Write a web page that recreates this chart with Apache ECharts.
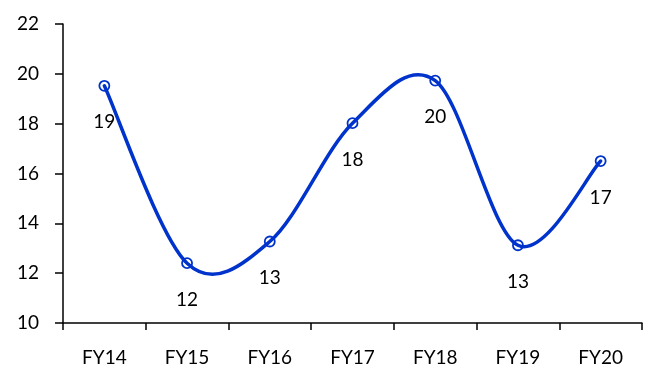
<!DOCTYPE html>
<html><head><meta charset="utf-8">
<script src="https://cdn.jsdelivr.net/npm/echarts@6/dist/echarts.min.js"></script>
<style>html,body{margin:0;padding:0;background:#fff}#c{width:660px;height:371px}</style>
</head><body><div id="c"></div>
<script>
const categories = ['FY14','FY15','FY16','FY17','FY18','FY19','FY20'];
const values = [19.52, 12.4, 13.27, 18.02, 19.73, 13.12, 16.5];
const labels = ['19','12','13','18','20','13','17'];
const yTicks = {min: 10, max: 22, interval: 2};

const blue = '#0033CC';
const font = 'Lato, "Open Sans", sans-serif';
const fs = 19;
const chart = echarts.init(document.getElementById('c'), null, {renderer: 'canvas'});

// Smooth curve (Catmull-Rom style, as in spreadsheet smoothed lines) through the data points,
// positioned through the chart's own coordinate system.
function renderCurve(params, api) {
  if (params.dataIndex !== 0) return null;
  const pts = values.map((v, i) => api.coord([i, v]));
  const n = pts.length;
  let path = 'M' + pts[0][0] + ' ' + pts[0][1];
  for (let i = 0; i < n - 1; i++) {
    const p0 = pts[Math.max(i - 1, 0)], p1 = pts[i], p2 = pts[i + 1], p3 = pts[Math.min(i + 2, n - 1)];
    const c1 = [p1[0] + (p2[0] - p0[0]) / 6, p1[1] + (p2[1] - p0[1]) / 6];
    const c2 = [p2[0] - (p3[0] - p1[0]) / 6, p2[1] - (p3[1] - p1[1]) / 6];
    path += ' C' + c1[0] + ' ' + c1[1] + ' ' + c2[0] + ' ' + c2[1] + ' ' + p2[0] + ' ' + p2[1];
  }
  return {
    type: 'path',
    shape: {pathData: path},
    style: {fill: null, stroke: blue, lineWidth: 3.5, lineJoin: 'round', lineCap: 'round'}
  };
}

chart.setOption({
  animation: false,
  backgroundColor: '#fff',
  grid: {left: 63, right: 18, top: 24, bottom: 48},
  xAxis: {
    type: 'category', data: categories, boundaryGap: true,
    axisLine: {lineStyle: {color: '#000', width: 1.5}},
    axisTick: {show: true, alignWithLabel: false, length: 7, lineStyle: {color: '#000', width: 1.5}},
    axisLabel: {color: '#000', fontSize: fs, fontFamily: font, margin: 25}
  },
  yAxis: {
    type: 'value', min: yTicks.min, max: yTicks.max, interval: yTicks.interval,
    axisLine: {show: true, lineStyle: {color: '#000', width: 1.5}},
    axisTick: {show: true, length: 8, lineStyle: {color: '#000', width: 1.5}},
    axisLabel: {color: '#000', fontSize: fs, fontFamily: font, margin: 24},
    splitLine: {show: false}
  },
  series: [{
    type: 'custom',
    data: values.map((v, i) => [i, v]),
    renderItem: renderCurve,
    z: 2
  }, {
    type: 'line', data: values,
    symbol: 'circle', symbolSize: 10,
    lineStyle: {width: 0, opacity: 0},
    itemStyle: {color: 'rgba(255,255,255,0)', borderColor: blue, borderWidth: 1.8},
    z: 3,
    label: {
      show: true, position: 'bottom', distance: 21,
      color: '#000', fontSize: fs, fontFamily: font,
      formatter: p => labels[p.dataIndex]
    }
  }]
});
</script></body></html>
